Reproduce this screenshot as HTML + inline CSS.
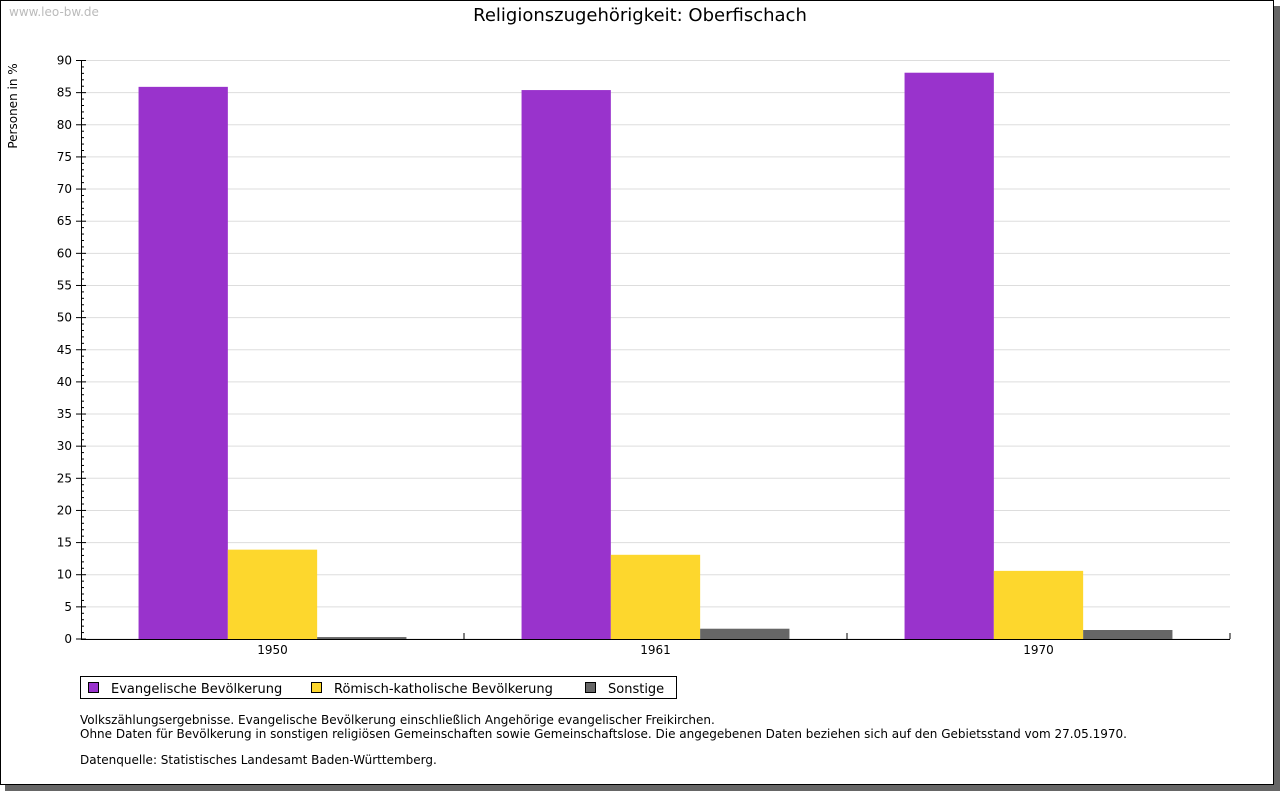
<!DOCTYPE html>
<html><head><meta charset="utf-8"><style>
body{margin:0;width:1280px;height:791px;background:#fff;overflow:hidden;font-family:"DejaVu Sans","Liberation Sans",sans-serif}
</style></head><body>
<svg id="c" width="1280" height="791" xmlns="http://www.w3.org/2000/svg">
<rect x="5" y="6" width="1275" height="785" fill="#666"/>
<rect x="0.5" y="0.5" width="1273" height="784" fill="#fff" stroke="#000"/>
<text x="9" y="16" font-size="12" fill="#bbb">www.leo-bw.de</text>
<text x="640" y="21" font-size="18" text-anchor="middle" fill="#000">Religionszugehörigkeit: Oberfischach</text>
<text transform="translate(17,106) rotate(-90)" font-size="12" text-anchor="middle">Personen in %</text>
<g id="grid"></g><g id="bars"></g><g id="axes"></g>
<g>
<rect x="80.5" y="676.5" width="596" height="22" fill="#fff" stroke="#000"/>
<g><rect x="88.5" y="682.5" width="10" height="10" fill="#9933cc" stroke="#000"/><text x="111" y="693" font-size="13">Evangelische Bevölkerung</text></g>
<g><rect x="311.5" y="682.5" width="10" height="10" fill="#fdd72d" stroke="#000"/><text x="334" y="693" font-size="13">Römisch-katholische Bevölkerung</text></g>
<g><rect x="585.5" y="682.5" width="10" height="10" fill="#666" stroke="#000"/><text x="608" y="693" font-size="13">Sonstige</text></g>
</g>
<g font-size="12" fill="#000">
<text x="80" y="724">Volkszählungsergebnisse. Evangelische Bevölkerung einschließlich Angehörige evangelischer Freikirchen.</text>
<text x="80" y="738">Ohne Daten für Bevölkerung in sonstigen religiösen Gemeinschaften sowie Gemeinschaftslose. Die angegebenen Daten beziehen sich auf den Gebietsstand vom 27.05.1970.</text>
<text x="80" y="764">Datenquelle: Statistisches Landesamt Baden-Württemberg.</text>
</g>
</svg>
<script>
const categories=["1950","1961","1970"];
const evangelisch=[85.9,85.4,88.1];
const katholisch=[13.9,13.1,10.6];
const sonstige=[0.3,1.6,1.4];
const yTicks=[0,5,10,15,20,25,30,35,40,45,50,55,60,65,70,75,80,85,90];
const NS="http://www.w3.org/2000/svg";
const X0=81,X1=1230,Y0=639,Y1=60.5,YMAX=90;
const y=v=>Y0-(v/YMAX)*(Y0-Y1);
const gw=(X1-X0)/categories.length;
function mk(t,a,p){const e=document.createElementNS(NS,t);for(const k in a)e.setAttribute(k,a[k]);p.appendChild(e);return e;}
const grid=document.getElementById('grid'),bars=document.getElementById('bars'),axes=document.getElementById('axes');
yTicks.forEach(v=>{
 const l=mk('line',{x1:X0,x2:X1,y1:y(v),y2:y(v),stroke:'#ddd'},grid);
 
 
 const t=mk('line',{x1:X0-5,x2:X0+5,y1:y(v),y2:y(v),stroke:'#000'},axes);
 
 
 const tx=mk('text',{x:X0-9,y:y(v)+4,'font-size':12,'text-anchor':'end'},axes);tx.textContent=v;
 
 
});
for(let v=0;v<YMAX;v++){if(v%5)mk('line',{x1:X0,x2:X0+3,y1:y(v),y2:y(v),stroke:'#000'},axes);}
const series=[[evangelisch,'#9933cc','evangelisch'],[katholisch,'#fdd72d','katholisch'],[sonstige,'#666','sonstige']];
const bw=89.3,off=(gw-3*bw)/2;
categories.forEach((c,i)=>{
 series.forEach((s,j)=>{
  const v=s[0][i];
  const r=mk('rect',{x:X0+i*gw+off+j*bw,y:y(v),width:bw,height:Y0-y(v),fill:s[1]},bars);
  
  
 });
 const tx=mk('text',{x:X0+i*gw+gw/2,y:654,'font-size':12,'text-anchor':'middle'},axes);tx.textContent=c;
 
 
 if(i>0){mk('line',{x1:X0+i*gw,x2:X0+i*gw,y1:Y0-6,y2:Y0,stroke:'#000'},axes);}
});
mk('line',{x1:X1,x2:X1,y1:Y0-6,y2:Y0,stroke:'#000'},axes);
const ya=mk('line',{x1:X0+.5,x2:X0+.5,y1:Y1,y2:Y0,stroke:'#000'},axes);


const xa=mk('line',{x1:X0,x2:X1,y1:Y0+.5,y2:Y0+.5,stroke:'#000'},axes);


</script>
</body></html>
